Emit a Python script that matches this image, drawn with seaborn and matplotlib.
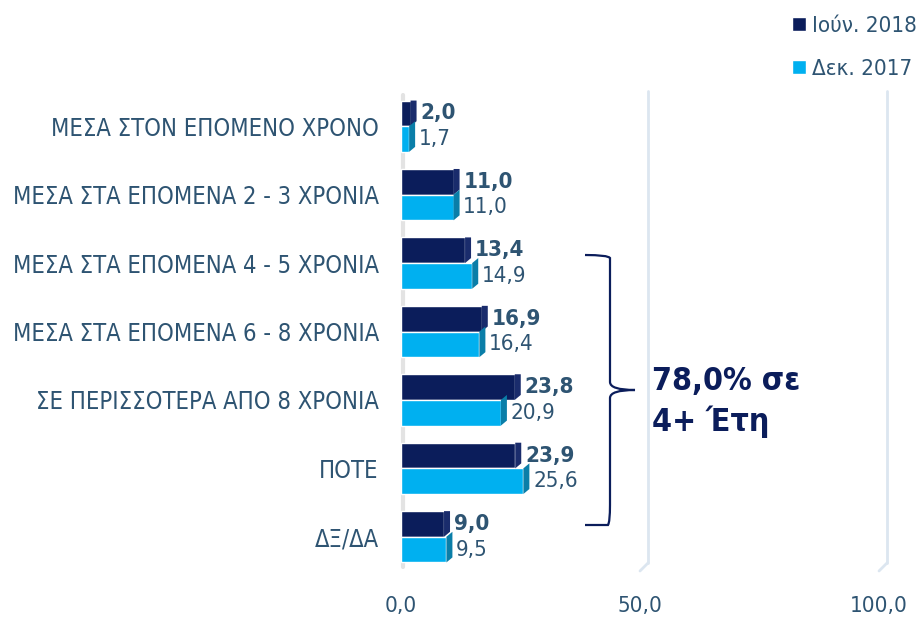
import numpy as np
import pandas as pd
import seaborn as sns
import matplotlib.pyplot as plt
import matplotlib.transforms as mtransforms
from matplotlib.path import Path
from matplotlib.patches import PathPatch, Polygon

categories = ["ΜΕΣΑ ΣΤΟΝ ΕΠΟΜΕΝΟ ΧΡΟΝΟ", "ΜΕΣΑ ΣΤΑ ΕΠΟΜΕΝΑ 2 - 3 ΧΡΟΝΙΑ",
              "ΜΕΣΑ ΣΤΑ ΕΠΟΜΕΝΑ 4 - 5 ΧΡΟΝΙΑ", "ΜΕΣΑ ΣΤΑ ΕΠΟΜΕΝΑ 6 - 8 ΧΡΟΝΙΑ",
              "ΣΕ ΠΕΡΙΣΣΟΤΕΡΑ ΑΠΟ 8 ΧΡΟΝΙΑ", "ΠΟΤΕ", "ΔΞ/ΔΑ"]
series = ["Ιούν. 2018", "Δεκ. 2017"]
jun_2018 = [2.0, 11.0, 13.4, 16.9, 23.8, 23.9, 9.0]
dec_2017 = [1.7, 11.0, 14.9, 16.4, 20.9, 25.6, 9.5]
xticks = [0, 50, 100]
note = "78,0% σε\n4+ Έτη"

df = pd.DataFrame({
    "cat": categories * 2,
    "val": jun_2018 + dec_2017,
    "series": [series[0]] * len(categories) + [series[1]] * len(categories),
})

sns.set_style("white")
plt.rcParams['font.family'] = ['DejaVu Sans']
plt.rcParams['font.stretch'] = 'condensed'
txt = "#2E5472"
navy = "#0B1D5B"
cyan = "#00B0F0"
side = {navy: "#1A2C6C", cyan: "#0A7EA8"}

fig = plt.figure(figsize=(9.24, 6.17), dpi=100)
ax = fig.add_axes([401 / 924, 46 / 617, 478 / 924, 479 / 617])

sns.barplot(data=df, y="cat", x="val", hue="series", hue_order=series,
            palette=[navy, cyan], width=0.75, orient="h", ax=ax,
            saturation=1, zorder=3)
ax.set_xlim(0, 100)
ax.set_ylim(6.5, -0.5)
ax.set_xticks(xticks)
ax.set_xticklabels([f"{t:.1f}".replace(".", ",") for t in xticks])
ax.set_xlabel("")
ax.set_ylabel("")
ax.tick_params(axis="y", length=0, pad=16, labelsize=17, labelcolor=txt)
ax.tick_params(axis="x", length=0, pad=18, labelsize=16, labelcolor=txt)
for s in ax.spines.values():
    s.set_visible(False)

# back wall grid lines (offset for the 3D look)
back = mtransforms.offset_copy(ax.get_xaxis_transform(), fig=fig, x=8, y=8, units="dots")
for t in xticks[1:]:
    ax.plot([t, t], [0, 0.985], color="#DCE6F0", lw=2, transform=back, zorder=0, clip_on=False)
zero = mtransforms.offset_copy(ax.get_xaxis_transform(), fig=fig, x=2, y=4, units="dots")
ax.plot([0, 0], [0, 0.985], color="#E3E3E3", lw=3, transform=zero, zorder=1, clip_on=False)

# 3D side faces
fig.canvas.draw()
inv = ax.transData.inverted()
dx, dy = 6, 5

# floor diagonals below the grid lines
for t in xticks[1:]:
    bx, by = ax.transData.transform((t, 6.5))
    pts = inv.transform([(bx, by), (bx + 8, by + 8)])
    ax.plot(pts[:, 0], pts[:, 1], color="#DCE6F0", lw=2, zorder=0, clip_on=False)

containers = ax.containers
for i, cont in enumerate(containers):
    for p in cont.patches:
        x0, w = p.get_x(), p.get_width()
        yt, h = p.get_y(), p.get_height()
        (ax0, ayt), (ax1, ayb) = ax.transData.transform([(x0, yt), (x0 + w, yt + h)])
        key = navy if i == 0 else cyan
        top = ayt if i == 0 else ayt + dy
        sidepts = inv.transform([(ax1, ayt), (ax1, ayb), (ax1 + dx, ayb + dy), (ax1 + dx, top)])
        ax.add_patch(Polygon(sidepts, closed=True, facecolor=side[key], edgecolor="none",
                             zorder=p.get_zorder()))

for cont, wt in zip(containers, ["bold", "normal"]):
    ax.bar_label(cont, labels=[f"{v:.1f}".replace(".", ",") for v in cont.datavalues],
                 padding=7, fontsize=16, color=txt, fontweight=wt, zorder=5)

sns.move_legend(ax, "upper right", bbox_to_anchor=(0.995, 0.978), bbox_transform=fig.transFigure,
                frameon=False, title=None, fontsize=16, handlelength=0.6, handleheight=0.6,
                handletextpad=0.3, labelspacing=1.05, borderaxespad=0, borderpad=0.1)
for t in ax.get_legend().get_texts():
    t.set_color(txt)

# curly brace
W, H = 924, 617
def fp(x, y):
    return (x / W, 1 - y / H)
verts = [fp(585, 255), fp(608, 255), fp(610, 258), fp(610, 275),
         fp(610, 382), fp(610, 390), fp(635, 390),
         fp(610, 390), fp(610, 398), fp(610, 505),
         fp(610, 522), fp(608, 525), fp(585, 525)]
codes = [Path.MOVETO, Path.CURVE3, Path.CURVE3, Path.LINETO,
         Path.LINETO, Path.CURVE3, Path.CURVE3,
         Path.CURVE3, Path.CURVE3, Path.LINETO,
         Path.CURVE3, Path.CURVE3, Path.LINETO]
fig.add_artist(PathPatch(Path(verts, codes), transform=fig.transFigure, facecolor="none",
                         edgecolor=navy, lw=1.6))

fig.text(652 / W, 1 - 402 / H, note, fontsize=23, fontweight="bold", color=navy,
         va="center", ha="left", linespacing=1.3)

fig.savefig("out.png", dpi=100)
